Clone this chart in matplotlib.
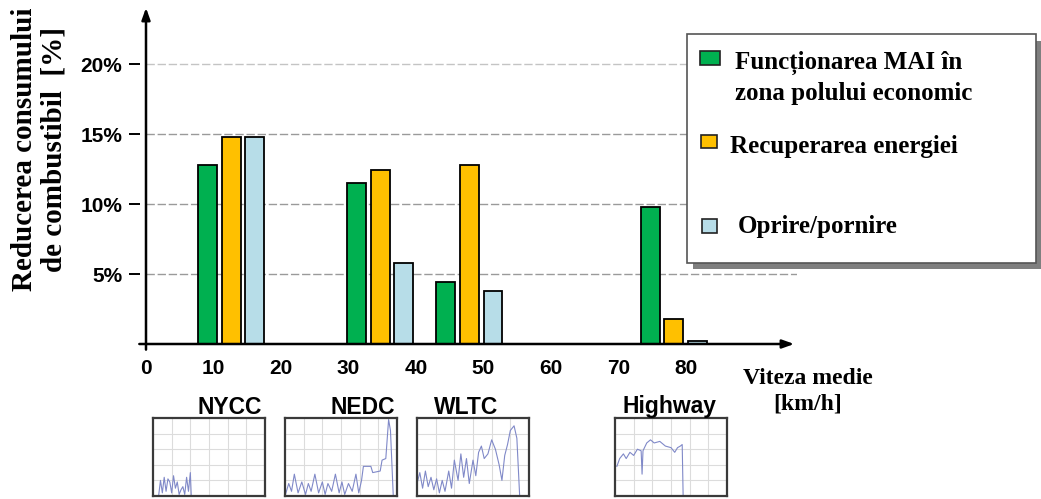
import matplotlib.pyplot as plt
from matplotlib.patches import Rectangle

W, H = 1041, 499

# average speed of each driving cycle (km/h) and fuel saving per measure (%)
cycles = ["NYCC", "NEDC", "WLTC", "Highway"]
avg_speed = [12.6, 34.7, 47.9, 78.2]
pol_economic = [12.8, 11.5, 4.4, 9.8]
recuperare = [14.8, 12.4, 12.8, 1.8]
start_stop = [14.8, 5.8, 3.8, 0.2]

series_names = ["Funcționarea MAI în\nzona polului economic",
                "Recuperarea energiei",
                "Oprire/pornire"]
colors = ["#00b050", "#ffc000", "#b7dde8"]

x_ticks = [0, 10, 20, 30, 40, 50, 60, 70, 80]
y_ticks = [5, 10, 15, 20]
y_ticklabels = ["5%", "10%", "15%", "20%"]

# speed traces of the cycles (box units: 6 wide, 5 high)
nycc_t = [0.3, 0.4, 0.5, 0.6, 0.7, 0.8, 0.9, 1.0, 1.1, 1.2, 1.3, 1.4, 1.5, 1.6, 1.7, 1.8, 1.9, 2.0, 2.05]
nycc_v = [0.0, 1.0, 0.2, 1.2, 0.3, 1.1, 0.9, 0.2, 1.3, 0.5, 0.9, 0.1, 0.4, 0.6, 0.1, 1.2, 0.3, 1.5, 0.0]
nedc_t = [0.0, 0.2, 0.35, 0.5, 0.7, 0.9, 1.1, 1.25, 1.4, 1.6, 1.8, 2.0, 2.15, 2.3, 2.5, 2.7, 2.9, 3.05, 3.2,
          3.4, 3.6, 3.8, 3.95, 4.1, 4.2, 4.6, 4.7, 5.1, 5.2, 5.4, 5.55, 5.65, 5.8]
nedc_v = [0.0, 0.8, 0.3, 1.4, 0.2, 0.9, 0.1, 0.8, 0.3, 1.4, 0.2, 0.9, 0.1, 0.8, 0.3, 1.4, 0.2, 0.9, 0.1,
          0.8, 0.3, 1.4, 0.2, 1.0, 1.9, 1.9, 1.5, 1.6, 2.3, 2.4, 4.9, 4.2, 0.0]
wltc_t = [0.0, 0.15, 0.3, 0.45, 0.6, 0.75, 0.9, 1.05, 1.2, 1.35, 1.5, 1.7, 1.85, 2.0, 2.2, 2.35, 2.5, 2.65, 2.8,
          3.0, 3.15, 3.3, 3.45, 3.6, 3.8, 4.0, 4.2, 4.4, 4.55, 4.7, 4.85, 5.0, 5.2, 5.35, 5.5]
wltc_v = [0.8, 1.5, 0.5, 1.6, 0.6, 1.2, 0.4, 1.1, 0.2, 1.0, 0.3, 1.6, 0.5, 2.3, 1.0, 2.7, 1.2, 2.4, 0.8,
          2.3, 1.3, 2.8, 3.2, 2.4, 2.7, 3.6, 3.0, 2.0, 1.0, 2.6, 3.3, 4.2, 4.5, 3.7, 0.0]
hwy_t = [0.1, 0.25, 0.45, 0.6, 0.8, 1.0, 1.2, 1.4, 1.45, 1.5, 1.7, 1.9, 2.1, 2.4, 2.7, 3.0, 3.2, 3.35, 3.5, 3.6, 3.65]
hwy_v = [1.9, 2.4, 2.7, 2.4, 2.8, 2.6, 3.0, 2.9, 1.4, 2.9, 3.4, 3.6, 3.4, 3.5, 3.2, 3.1, 2.8, 3.1, 3.2, 3.3, 0.0]
traces = [(nycc_t, nycc_v), (nedc_t, nedc_v), (wltc_t, wltc_v), (hwy_t, hwy_v)]


def fig_box(left, top, right, bottom):
    return [left / W, 1 - bottom / H, (right - left) / W, (bottom - top) / H]


plt.rcParams["font.family"] = ["Liberation Sans", "DejaVu Sans"]
serif = ["Liberation Serif", "DejaVu Serif"]

fig = plt.figure(figsize=(W / 100, H / 100), dpi=100)
ax = fig.add_axes(fig_box(146, 5, 797, 344))
x_max = 651 / 6.75
y_max = 339 / 14
ax.set_xlim(0, x_max)
ax.set_ylim(0, y_max)

for s in ax.spines.values():
    s.set_visible(False)
ax.spines["left"].set_position(("outward", 4))

# dashed reference lines
for y in y_ticks:
    ax.plot([0, x_max], [y, y], color="#9a9a9a" if y < 20 else "#c4c4c4",
            lw=1.0, ls=(0, (6, 2)), zorder=1)

bw = 2.8
offs = [-3.5, 0.0, 3.5]
for vals, c, o, name in zip([pol_economic, recuperare, start_stop], colors, offs, series_names):
    ax.bar([s + o for s in avg_speed], vals, width=bw, color=c, edgecolor="black",
           linewidth=1.3, zorder=3, label=name)

# axis arrows
ax.annotate("", xy=(0, y_max), xytext=(0, -0.6), annotation_clip=False,
            arrowprops=dict(arrowstyle="-|>,head_length=0.7,head_width=0.25", lw=1.8, color="black"), zorder=5)
ax.annotate("", xy=(x_max, 0), xytext=(-1.4, 0), annotation_clip=False,
            arrowprops=dict(arrowstyle="-|>,head_length=0.7,head_width=0.25", lw=1.8, color="black"), zorder=5)

ax.set_xticks(x_ticks)
ax.set_xticklabels([str(v) for v in x_ticks], fontsize=15, fontweight="bold")
ax.tick_params(axis="x", length=0, pad=11)
ax.set_yticks(y_ticks)
ax.set_yticklabels(y_ticklabels, fontsize=15, fontweight="bold")
ax.tick_params(axis="y", length=8, width=1.4, pad=5)

fig.text(39 / W, 1 - 149 / H, "Reducerea consumului\nde combustibil  [%]",
         rotation=90, ha="center", va="center", fontsize=21, fontweight="bold",
         family=serif, linespacing=1.1)
fig.text(808 / W, 1 - 391 / H, "Viteza medie\n[km/h]", ha="center", va="center",
         fontsize=17, fontweight="bold", family=serif, linespacing=1.3)

# legend box with drop shadow
fig.patches.append(Rectangle((693 / W, 1 - 269 / H), 348 / W, 228 / H, transform=fig.transFigure,
                             facecolor="#7f7f7f", edgecolor="none", zorder=6))
fig.patches.append(Rectangle((687 / W, 1 - 263 / H), 349 / W, 229 / H, transform=fig.transFigure,
                             facecolor="white", edgecolor="#555555", lw=1.2, zorder=7))
patch_box = [(700, 51, 20, 14), (701, 135, 16, 13), (702, 219, 15, 14)]
text_pos = [(735, 78), (730, 146), (738, 227)]
for (px, py, pw, ph), (tx, ty), c, name in zip(patch_box, text_pos, colors, series_names):
    fig.patches.append(Rectangle((px / W, 1 - (py + ph) / H), pw / W, ph / H, transform=fig.transFigure,
                                 facecolor=c, edgecolor="#222222", lw=1.2, zorder=8))
    fig.text(tx / W, 1 - ty / H, name, ha="left", va="center", fontsize=18,
             fontweight="bold", family=serif, zorder=9, linespacing=1.35)

# small cycle thumbnails
boxes = [(153, 418, 265, 496), (285, 418, 397, 496), (417, 418, 529, 496), (615, 418, 727, 496)]
title_x = [230, 363, 466, 670]
for (l, t, r, b), name, tx, (tt, vv) in zip(boxes, cycles, title_x, traces):
    a = fig.add_axes(fig_box(l, t, r, b))
    a.set_xlim(0, 6)
    a.set_ylim(0, 5)
    for gx in range(1, 6):
        a.axvline(gx, color="#dcdcdc", lw=0.8)
    for gy in range(1, 5):
        a.axhline(gy, color="#dcdcdc", lw=0.8)
    a.plot(tt, vv, color="#8089c8", lw=0.8)
    a.set_xticks([])
    a.set_yticks([])
    for s in a.spines.values():
        s.set_color("#3a3a3a")
        s.set_linewidth(1.6)
    fig.text(tx / W, 1 - 407 / H, name, ha="center", va="center", fontsize=16.5, fontweight="bold")

fig.savefig("out.png", dpi=100)
